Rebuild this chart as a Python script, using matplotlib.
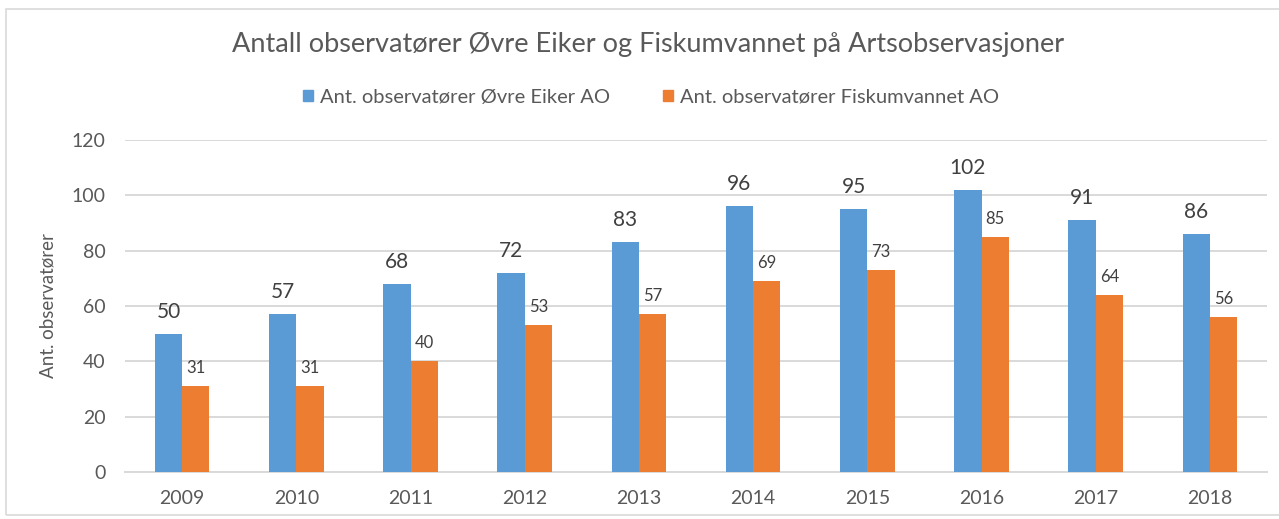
import matplotlib
matplotlib.use("Agg")
import matplotlib.pyplot as plt
from matplotlib.patches import Rectangle, Patch
import numpy as np

years = ["2009", "2010", "2011", "2012", "2013", "2014", "2015", "2016", "2017", "2018"]
ovre_eiker = [50, 57, 68, 72, 83, 96, 95, 102, 91, 86]
fiskumvannet = [31, 31, 40, 53, 57, 69, 73, 85, 64, 56]
series_names = ["Ant. observatører Øvre Eiker AO", "Ant. observatører Fiskumvannet AO"]
title = "Antall observatører Øvre Eiker og Fiskumvannet på Artsobservasjoner"
ylabel = "Ant. observatører"
yticks = [0, 20, 40, 60, 80, 100, 120]

plt.rcParams['font.family'] = ['Lato', 'DejaVu Sans']
W, H = 1279, 519
fig = plt.figure(figsize=(W / 100, H / 100), dpi=100)

BLUE = "#5B9BD5"
ORANGE = "#ED7D31"
GRID = "#D9D9D9"
TXT = "#595959"
LBL = "#404040"

# chart border
fig.patches.append(Rectangle((6 / W, 1 - 515 / H), 1.0, 506 / H, transform=fig.transFigure,
                             fill=False, edgecolor=GRID, linewidth=1.2))

ax = fig.add_axes([125 / W, 1 - 472 / H, (1267 - 125) / W, (472 - 140) / H])
x = np.arange(len(years))
bw = 0.239
ax.bar(x - bw / 2, ovre_eiker, width=bw, color=BLUE, zorder=3)
ax.bar(x + bw / 2, fiskumvannet, width=bw, color=ORANGE, zorder=3)

for xi, v in zip(x, ovre_eiker):
    ax.annotate(str(v), (xi - bw / 2, v), xytext=(0, 11.5), textcoords='offset points',
                ha='center', va='baseline', fontsize=15, color=LBL)
for xi, v in zip(x, fiskumvannet):
    ax.annotate(str(v), (xi + bw / 2, v), xytext=(0, 9.4), textcoords='offset points',
                ha='center', va='baseline', fontsize=12, color=LBL)

ax.set_xlim(-0.5, len(years) - 0.5)
ax.set_ylim(0, 120)
ax.set_yticks(yticks)
ax.set_xticks(x)
ax.set_xticklabels(years)
ax.yaxis.grid(True, color=GRID, linewidth=1.4, zorder=0)
ax.set_axisbelow(True)
for s in ["top", "right", "left"]:
    ax.spines[s].set_visible(False)
ax.spines["bottom"].set_color(GRID)
ax.spines["bottom"].set_linewidth(1.4)
ax.tick_params(axis='both', length=0, labelsize=14, colors=TXT)
ax.tick_params(axis='x', pad=13)
ax.tick_params(axis='y', pad=14)
ax.set_ylabel(ylabel, fontsize=13.5, color=TXT, labelpad=11)

fig.text(648 / W, 1 - 52 / H, title, ha='center', va='baseline', fontsize=19.5, color=TXT)

handles = [Patch(color=BLUE), Patch(color=ORANGE)]
fig.legend(handles, series_names, loc='center', bbox_to_anchor=(651 / W, 1 - 97 / H), ncol=2,
           frameon=False, fontsize=14.5, handlelength=0.5, handleheight=0.5,
           handletextpad=0.35, columnspacing=2.6, labelcolor=TXT)

fig.savefig("out.png", dpi=100)
